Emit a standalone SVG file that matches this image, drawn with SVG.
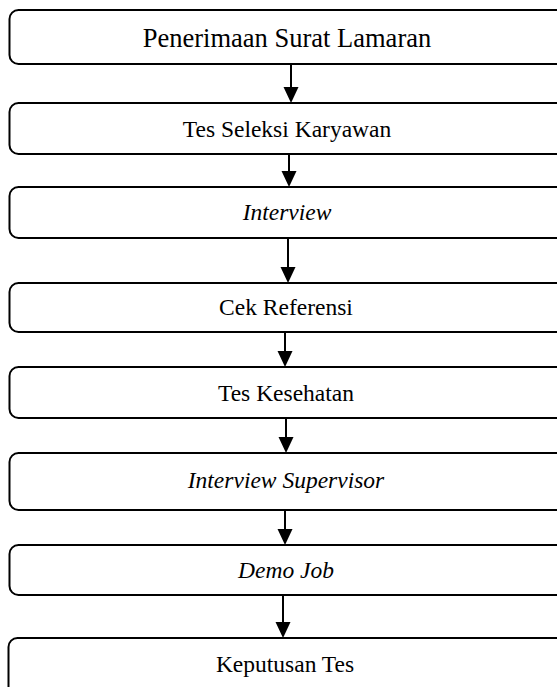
<svg xmlns="http://www.w3.org/2000/svg" width="557" height="687" viewBox="0 0 557 687">
<style>
.box{fill:#fff;stroke:#000;stroke-width:2}
.t{font-family:"Liberation Serif","Times New Roman",serif;font-size:23.5px;fill:#000;text-anchor:middle}
.i{font-style:italic}
.c{stroke:#000;stroke-width:2;fill:none}
</style>
<defs>
<marker id="ah" markerWidth="8" markerHeight="8" refX="8" refY="4" orient="auto" markerUnits="userSpaceOnUse" viewBox="0 0 8 8">
<path d="M0,0 L8,4 L0,8 Z" fill="#000"/>
</marker>
</defs>
<rect width="557" height="687" fill="#fff"/>
<g id="connectors">
<path class="c" d="M291,64 V88"/><path d="M283.5,87 L298.5,87 L291,103 Z"/>
<path class="c" d="M289,154 V172"/><path d="M281.5,171 L296.5,171 L289,187 Z"/>
<path class="c" d="M288,238 V268"/><path d="M280.5,267 L295.5,267 L288,283 Z"/>
<path class="c" d="M285,332 V352"/><path d="M277.5,351 L292.5,351 L285,367 Z"/>
<path class="c" d="M286,418 V438"/><path d="M278.5,437 L293.5,437 L286,453 Z"/>
<path class="c" d="M285,510 V530"/><path d="M277.5,529 L292.5,529 L285,545 Z"/>
<path class="c" d="M283,595 V623"/><path d="M275.5,622 L290.5,622 L283,638 Z"/>
</g>
<g id="n1"><rect class="box" x="9.5" y="10" width="560" height="54" rx="9"/><text class="t" x="287" y="47" style="font-size:26.5px">Penerimaan Surat Lamaran</text></g>
<g id="n2"><rect class="box" x="9.5" y="103" width="560" height="51" rx="9"/><text class="t" x="287" y="137">Tes Seleksi Karyawan</text></g>
<g id="n3"><rect class="box" x="9.5" y="187" width="560" height="51" rx="9"/><text class="t i" x="287" y="220">Interview</text></g>
<g id="n4"><rect class="box" x="9.5" y="283" width="560" height="49" rx="9"/><text class="t" x="286" y="315">Cek Referensi</text></g>
<g id="n5"><rect class="box" x="9.5" y="367" width="560" height="51" rx="9"/><text class="t" x="286" y="401">Tes Kesehatan</text></g>
<g id="n6"><rect class="box" x="9.5" y="453" width="560" height="57" rx="9"/><text class="t i" x="286" y="488">Interview Supervisor</text></g>
<g id="n7"><rect class="box" x="9.5" y="545" width="560" height="50" rx="9"/><text class="t i" x="286" y="578">Demo Job</text></g>
<g id="n8"><rect class="box" x="8.5" y="638" width="560" height="80" rx="9"/><text class="t" x="285" y="672">Keputusan Tes</text></g>
</svg>
